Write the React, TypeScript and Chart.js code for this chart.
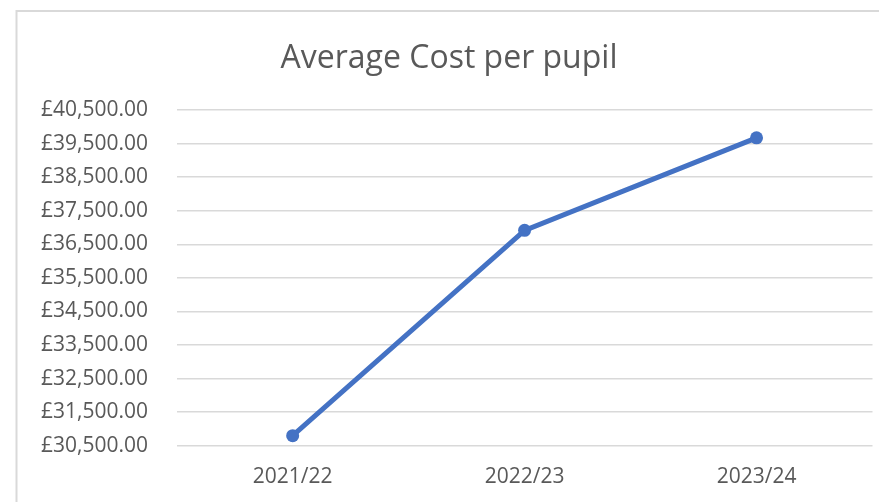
import React, { useEffect, useRef } from "react";
import { Chart, registerables } from "chart.js";

Chart.register(...registerables);

const categories: string[] = ["2021/22", "2022/23", "2023/24"];
const costPerPupil: number[] = [30800, 36915, 39670];
const yMin = 30500;
const yMax = 40500;
const yStep = 1000;
const titleText = "Average Cost per pupil";

const FONT = "'Open Sans', 'Noto Sans', sans-serif";
const TEXT_COLOR = "#595959";
const GRID_COLOR = "#d9d9d9";
const LINE_COLOR = "#4472C4";

const formatPounds = (v: number) =>
  "£" + v.toLocaleString("en-GB", { minimumFractionDigits: 2, maximumFractionDigits: 2 });

const frameBorder = {
  id: "frameBorder",
  beforeDraw(chart: any) {
    const ctx = chart.ctx;
    ctx.save();
    ctx.fillStyle = "#ffffff";
    ctx.fillRect(0, 0, chart.width, chart.height);
    ctx.strokeStyle = GRID_COLOR;
    ctx.lineWidth = 2;
    ctx.beginPath();
    ctx.moveTo(chart.width, 11);
    ctx.lineTo(16.5, 11);
    ctx.lineTo(16.5, chart.height);
    ctx.stroke();
    ctx.restore();
  },
};

const chartTitle = {
  id: "chartTitle",
  afterDraw(chart: any) {
    const ctx = chart.ctx;
    ctx.save();
    ctx.fillStyle = TEXT_COLOR;
    ctx.font = `32px ${FONT}`;
    ctx.textAlign = "center";
    ctx.textBaseline = "alphabetic";
    ctx.fillText(titleText, 449, 68.3);
    ctx.restore();
  },
};

export default function App() {
  const canvasRef = useRef<HTMLCanvasElement | null>(null);

  useEffect(() => {
    if (!canvasRef.current) return;
    const chart = new Chart(canvasRef.current, {
      type: "line",
      data: {
        labels: categories,
        datasets: [
          {
            label: titleText,
            data: costPerPupil,
            borderColor: LINE_COLOR,
            backgroundColor: LINE_COLOR,
            borderWidth: 5,
            pointRadius: 6.5,
            pointBackgroundColor: LINE_COLOR,
            pointBorderColor: LINE_COLOR,
            pointBorderWidth: 0,
            tension: 0,
          },
        ],
      },
      options: {
        animation: false,
        responsive: false,
        layout: { padding: { left: 0, right: 6, top: 110, bottom: 0 } },
        plugins: {
          legend: { display: false },
          tooltip: { enabled: false },
          title: { display: false },
        },
        scales: {
          x: {
            offset: true,
            grid: { display: false, drawTicks: false },
            border: { display: false },
            ticks: {
              color: TEXT_COLOR,
              font: { family: FONT, size: 21 },
              padding: 19,
              maxRotation: 0,
            },
            afterFit: (scale: any) => {
              scale.height = 56.3;
            },
          },
          y: {
            min: yMin,
            max: yMax,
            grid: { color: GRID_COLOR, lineWidth: 1.5, drawTicks: false },
            border: { display: false },
            ticks: {
              stepSize: yStep,
              color: TEXT_COLOR,
              font: { family: FONT, size: 21 },
              padding: 28.7,
              callback: (v: any) => formatPounds(Number(v)),
            },
            afterFit: (scale: any) => {
              scale.width = 176.7;
            },
          },
        },
      },
      plugins: [frameBorder, chartTitle],
    });
    return () => chart.destroy();
  }, []);

  return (
    <div style={{ position: "absolute", left: 0, top: 0, width: 879, height: 502, background: "#fff" }}>
      <canvas ref={canvasRef} width={879} height={502} />
    </div>
  );
}
